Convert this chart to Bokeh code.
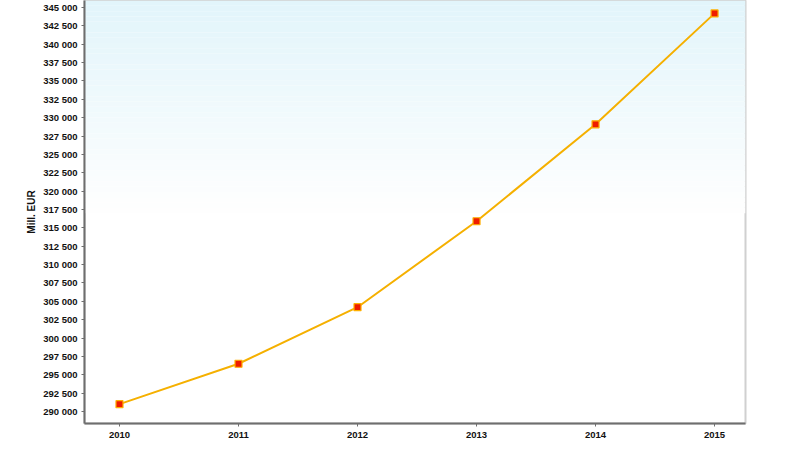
from bokeh.plotting import figure
from bokeh.embed import file_html
from bokeh.resources import INLINE
from bokeh.models import FixedTicker, CustomJSTickFormatter, Range1d, ColumnDataSource

years = [2010, 2011, 2012, 2013, 2014, 2015]
values = [291000, 296500, 304200, 315900, 329100, 344200]
y_ticks = [290000 + 2500 * i for i in range(23)]
x_ticks = years
y_label = "Mill. EUR"

y_start, y_end = 288366, 345953
x_start, x_end = 2009.706, 2015.26

p = figure(width=792, height=443, output_backend="svg", toolbar_location=None,
           x_range=Range1d(x_start, x_end), y_range=Range1d(y_start, y_end),
           min_border_left=84, min_border_right=47, min_border_top=0, min_border_bottom=20)

p.background_fill_color = "white"
p.border_fill_color = "white"
p.outline_line_color = "#d0d0d0"
p.outline_line_width = 2
p.grid.visible = False

# gradient background (light cyan at top fading to white)
n = 40
g_bottom = 317000
top_rgb = (226, 245, 251)
edges = [g_bottom + (y_end - g_bottom) * i / n for i in range(n + 1)]
cols = []
for i in range(n):
    t = (i + 0.5) / n
    r = int(255 + (top_rgb[0] - 255) * t)
    g = int(255 + (top_rgb[1] - 255) * t)
    b = int(255 + (top_rgb[2] - 255) * t)
    cols.append("#%02x%02x%02x" % (r, g, b))
p.quad(left=x_start, right=x_end, bottom=edges[:-1], top=edges[1:], fill_color=cols,
       line_color=None, level="underlay")

src = ColumnDataSource(dict(x=years, y=values))
p.line("x", "y", source=src, line_color="#f5b000", line_width=2)
p.scatter("x", "y", source=src, marker="square", size=7, fill_color="#ee1c00",
          line_color="#ffb000", line_width=1.2)

fmt = CustomJSTickFormatter(code="return Math.round(tick).toString().replace(/\\B(?=(\\d{3})+(?!\\d))/g, ' ');")
p.yaxis.ticker = FixedTicker(ticks=y_ticks)
p.yaxis.formatter = fmt
p.xaxis.ticker = FixedTicker(ticks=x_ticks)

for ax in (p.xaxis[0], p.yaxis[0]):
    ax.axis_line_color = "#6e6e6e"
    ax.axis_line_width = 2
    ax.major_tick_line_color = "#6e6e6e"
    ax.major_tick_out = 3
    ax.major_tick_in = 0
    ax.minor_tick_line_color = None
    ax.major_label_text_font = "Liberation Sans"
    ax.major_label_text_font_style = "bold"
    ax.major_label_text_font_size = "9.5px"
    ax.major_label_text_color = "#111111"

p.xaxis.major_label_standoff = 5
p.yaxis.major_label_standoff = 4
p.yaxis.axis_label = y_label
p.yaxis.axis_label_text_font = "Liberation Sans"
p.yaxis.axis_label_text_font_style = "bold"
p.yaxis.axis_label_text_font_size = "10px"
p.yaxis.axis_label_text_color = "#111111"
p.yaxis.axis_label_standoff = 3

open("out.html", "w").write(file_html(p, INLINE))
